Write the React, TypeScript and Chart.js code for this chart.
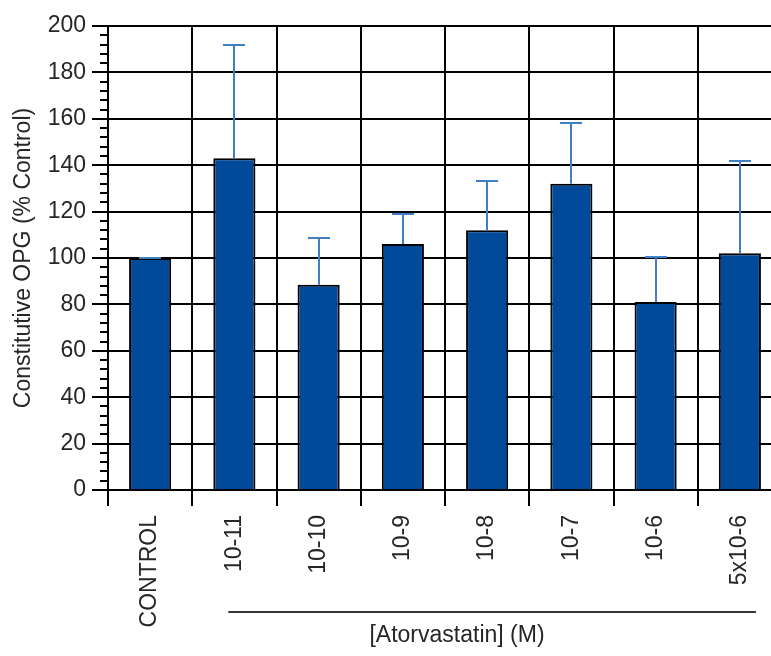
import { useEffect, useRef } from "react";
import { Chart, registerables } from "chart.js";

Chart.register(...registerables);

// Concentration groups along the x axis
const categories = ["CONTROL", "10-11", "10-10", "10-9", "10-8", "10-7", "10-6", "5x10-6"];
// Mean constitutive OPG, % of control
const opgMean = [100, 143, 88.5, 106, 112, 132, 81, 102];
// Top of each error bar (mean + error), % of control
const opgUpper = [100, 191.7, 108.6, 118.8, 133, 158, 100.3, 142];

const yMin = 0;
const yMax = 200;
const yStep = 20;
const yMinorStep = 4;

const yTitle = "Constitutive OPG (% Control)";
const xTitle = "[Atorvastatin] (M)";

const FONT = '"Liberation Sans", Arial, Helvetica, sans-serif';
const TEXT = "#262626";
const BAR_FILL = "#014A9A";
const ERR_COLOR = "#3F7FC6";

// Small ticks on the y axis between the labelled ones
const minorTicks = {
  id: "minorTicks",
  afterDraw(chart: Chart) {
    const y = chart.scales.y;
    const ctx = chart.ctx;
    const x0 = chart.chartArea.left;
    ctx.save();
    ctx.strokeStyle = "#000";
    ctx.lineWidth = 2;
    for (let v = yMin; v <= yMax; v += yMinorStep) {
      if (v % yStep === 0) continue;
      const py = Math.round(y.getPixelForValue(v));
      ctx.beginPath();
      ctx.moveTo(x0 - 8, py);
      ctx.lineTo(x0, py);
      ctx.stroke();
    }
    ctx.restore();
  },
};

// Upward error bars with caps
const errorBars = {
  id: "errorBars",
  afterDatasetsDraw(chart: Chart) {
    const meta = chart.getDatasetMeta(0);
    const y = chart.scales.y;
    const ctx = chart.ctx;
    ctx.save();
    ctx.strokeStyle = ERR_COLOR;
    ctx.lineWidth = 2;
    meta.data.forEach((bar: any, i: number) => {
      const x = Math.round(bar.x);
      const yBase = y.getPixelForValue(opgMean[i]);
      const yTop = Math.round(y.getPixelForValue(opgUpper[i]));
      ctx.beginPath();
      ctx.moveTo(x, yBase);
      ctx.lineTo(x, yTop);
      ctx.moveTo(x - 11, yTop);
      ctx.lineTo(x + 11, yTop);
      ctx.stroke();
    });
    ctx.restore();
  },
};

// Bracket line under the drug concentrations and its caption
const groupCaption = {
  id: "groupCaption",
  afterDraw(chart: Chart) {
    const x = chart.scales.x;
    const ctx = chart.ctx;
    const x1 = x.getPixelForValue(1) - 6;
    const x2 = x.getPixelForValue(7) + 16;
    const lineY = 612;
    ctx.save();
    ctx.strokeStyle = "#333";
    ctx.lineWidth = 2;
    ctx.beginPath();
    ctx.moveTo(x1, lineY);
    ctx.lineTo(x2, lineY);
    ctx.stroke();
    ctx.fillStyle = TEXT;
    ctx.font = `23px ${FONT}`;
    ctx.textAlign = "center";
    ctx.textBaseline = "middle";
    ctx.fillText(xTitle, 457, 636);
    ctx.restore();
  },
};

export default function App() {
  const canvasRef = useRef<HTMLCanvasElement | null>(null);

  useEffect(() => {
    const canvas = canvasRef.current;
    if (!canvas) return;
    const chart = new Chart(canvas, {
      type: "bar",
      data: {
        labels: categories,
        datasets: [
          {
            data: opgMean,
            backgroundColor: BAR_FILL,
            borderColor: "#000",
            borderWidth: 2,
            barPercentage: 0.5,
            categoryPercentage: 1,
          },
        ],
      },
      options: {
        responsive: false,
        animation: false,
        devicePixelRatio: 1,
        layout: { padding: { top: 26, right: 18, bottom: 0, left: 0 } },
        plugins: {
          legend: { display: false },
          tooltip: { enabled: false },
        },
        scales: {
          x: {
            type: "category",
            grid: {
              color: "#000",
              lineWidth: 2,
              tickLength: 16,
              offset: true,
            },
            border: { color: "#000", width: 2 },
            ticks: {
              color: TEXT,
              font: { family: FONT, size: 23 },
              minRotation: 90,
              maxRotation: 90,
              autoSkip: false,
              padding: 9,
            },
            afterFit(scale: any) {
              scale.height = 166;
            },
          },
          y: {
            min: yMin,
            max: yMax,
            grid: {
              color: "#000",
              lineWidth: 2,
              tickLength: 16,
            },
            border: { color: "#000", width: 2 },
            ticks: {
              stepSize: yStep,
              color: TEXT,
              font: { family: FONT, size: 23 },
              padding: 6,
            },
            title: {
              display: true,
              text: yTitle,
              color: TEXT,
              font: { family: FONT, size: 23 },
              padding: { top: 10, bottom: 0 },
            },
            afterFit(scale: any) {
              scale.width = 108;
            },
          },
        },
      },
      plugins: [minorTicks, errorBars, groupCaption],
    });
    return () => chart.destroy();
  }, []);

  return (
    <div
      style={{
        position: "fixed",
        left: 0,
        top: 0,
        width: 771,
        height: 656,
        overflow: "hidden",
        background: "#fff",
      }}
    >
      <canvas ref={canvasRef} width={800} height={656} style={{ display: "block" }} />
    </div>
  );
}
